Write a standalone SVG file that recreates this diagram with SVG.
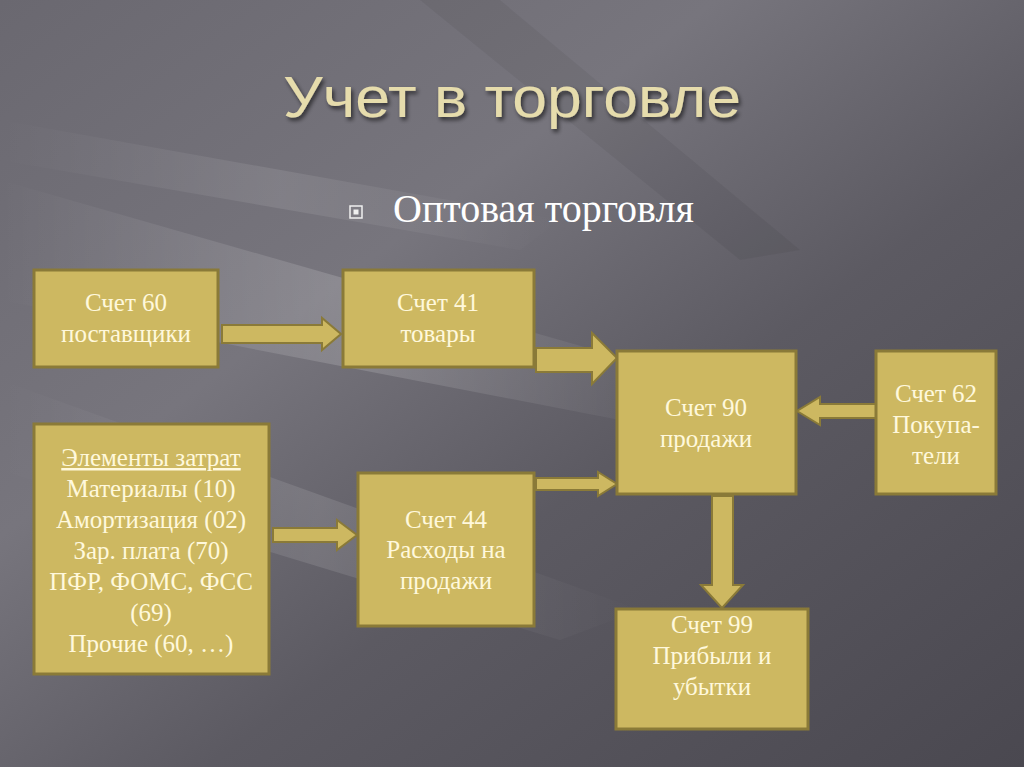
<svg xmlns="http://www.w3.org/2000/svg" width="1024" height="767" viewBox="0 0 1024 767">
<defs>
<linearGradient id="bg" x1="0" y1="0" x2="1" y2="1">
<stop offset="0" stop-color="#6a6870"/>
<stop offset="0.35" stop-color="#77757d"/>
<stop offset="0.6" stop-color="#5c5a62"/>
<stop offset="1" stop-color="#4a4850"/>
</linearGradient>
<linearGradient id="streak" x1="0" y1="0" x2="1" y2="0">
<stop offset="0" stop-color="#ffffff" stop-opacity="0"/>
<stop offset="0.5" stop-color="#ffffff" stop-opacity="0.16"/>
<stop offset="1" stop-color="#ffffff" stop-opacity="0"/>
</linearGradient>
<filter id="sh" x="-10%" y="-30%" width="120%" height="160%">
<feDropShadow dx="2" dy="3" stdDeviation="2" flood-color="#000" flood-opacity="0.6"/>
</filter>
</defs>
<style>
.box{fill:#cdb861;stroke:#8a7a38;stroke-width:3}
.arr{fill:#cdb861;stroke:#8a7a38;stroke-width:2;stroke-linejoin:miter}
.t{font-family:"Liberation Serif",serif;font-size:25px;fill:#fff8dc;text-anchor:middle}
</style>
<rect width="1024" height="767" fill="url(#bg)"/>
<polygon points="0,180 0,300 620,420 700,380" fill="url(#streak)"/>
<polygon points="0,380 0,470 560,640 640,610" fill="url(#streak)" opacity="0.7"/>
<polygon points="0,120 0,160 520,250 560,220" fill="url(#streak)" opacity="0.6"/>
<polygon points="420,0 500,0 800,250 740,260" fill="#000" opacity="0.05"/>

<text x="512" y="117" font-family="Liberation Sans, sans-serif" font-size="58" fill="#e6dcac" text-anchor="middle" filter="url(#sh)" textLength="458" lengthAdjust="spacingAndGlyphs">Учет в торговле</text>

<g id="subtitle">
<rect x="350" y="206" width="12" height="12" fill="none" stroke="#f0f0f0" stroke-width="1.5"/>
<rect x="353.5" y="209.5" width="5" height="5" fill="#f0f0f0"/>
<text x="393" y="222" font-family="Liberation Serif, serif" font-size="40" fill="#ffffff">Оптовая торговля</text>
</g>

<g id="connectors">
<polygon class="arr" points="222,325 322,325 322,318 341,334 322,350 322,343 222,343"/>
<polygon class="arr" points="536,348 592,348 592,333 617,358 592,384 592,372 536,372"/>
<polygon class="arr" points="536,478 598,478 598,472 617,484 598,496 598,490 536,490"/>
<polygon class="arr" points="876,404 820,404 820,397 797,411 820,425 820,418 876,418"/>
<polygon class="arr" points="273,528 337,528 337,520 357,535 337,550 337,542 273,542"/>
<polygon class="arr" points="712,496 733,496 733,585 743,585 722,608 701,585 712,585"/>
</g>

<g id="n60">
<rect class="box" x="34" y="270" width="184" height="97"/>
<text class="t" x="126" y="311">Счет 60</text>
<text class="t" x="126" y="342">поставщики</text>
</g>
<g id="n41">
<rect class="box" x="343" y="270" width="191" height="97"/>
<text class="t" x="438" y="311">Счет 41</text>
<text class="t" x="438" y="342">товары</text>
</g>
<g id="n90">
<rect class="box" x="617" y="351" width="179" height="143"/>
<text class="t" x="706" y="416">Счет 90</text>
<text class="t" x="706" y="447">продажи</text>
</g>
<g id="n62">
<rect class="box" x="876" y="351" width="120" height="143"/>
<text class="t" x="936" y="402">Счет 62</text>
<text class="t" x="936" y="433">Покупа-</text>
<text class="t" x="936" y="464">тели</text>
</g>
<g id="costs">
<rect class="box" x="34" y="424" width="235" height="250"/>
<text class="t" x="151" y="466" text-decoration="underline">Элементы затрат</text>
<text class="t" x="151" y="497">Материалы (10)</text>
<text class="t" x="151" y="528">Амортизация (02)</text>
<text class="t" x="151" y="559">Зар. плата (70)</text>
<text class="t" x="151" y="590">ПФР, ФОМС, ФСС</text>
<text class="t" x="151" y="621">(69)</text>
<text class="t" x="151" y="652">Прочие (60, …)</text>
</g>
<g id="n44">
<rect class="box" x="358" y="473" width="176" height="153"/>
<text class="t" x="446" y="528">Счет 44</text>
<text class="t" x="446" y="558">Расходы на</text>
<text class="t" x="446" y="589">продажи</text>
</g>
<g id="n99">
<rect class="box" x="616" y="609" width="192" height="120"/>
<text class="t" x="712" y="633">Счет 99</text>
<text class="t" x="712" y="664">Прибыли и</text>
<text class="t" x="712" y="695">убытки</text>
</g>
</svg>
